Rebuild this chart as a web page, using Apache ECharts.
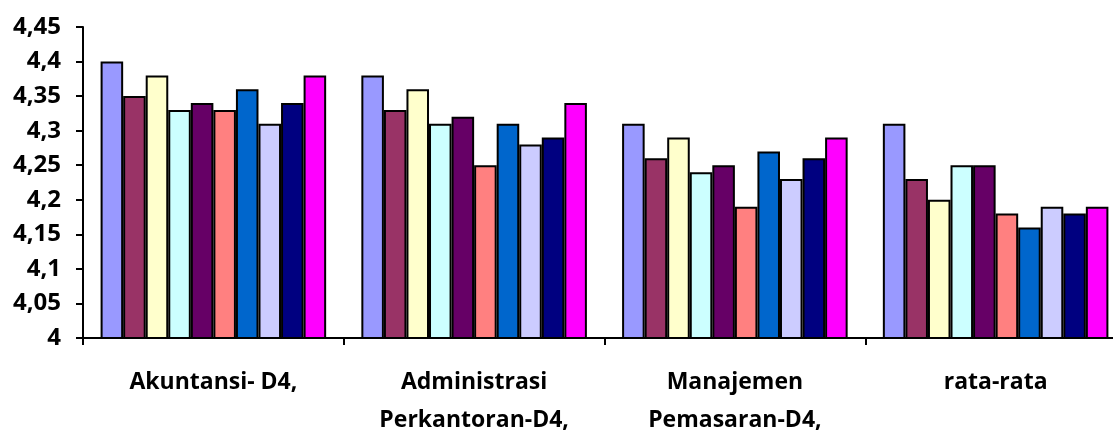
<!DOCTYPE html>
<html>
<head>
<meta charset="utf-8">
<script src="https://cdn.jsdelivr.net/npm/echarts@6/dist/echarts.min.js"></script>
<style>
html,body{margin:0;padding:0;background:#fff;}
#c{width:1113px;height:432px;}
</style>
</head>
<body>
<div id="c"></div>
<script>
const categories = ['Akuntansi- D4,', 'Administrasi\nPerkantoran-D4,', 'Manajemen\nPemasaran-D4,', 'rata-rata'];
const s1  = [4.40, 4.38, 4.31, 4.31];
const s2  = [4.35, 4.33, 4.26, 4.23];
const s3  = [4.38, 4.36, 4.29, 4.20];
const s4  = [4.33, 4.31, 4.24, 4.25];
const s5  = [4.34, 4.32, 4.25, 4.25];
const s6  = [4.33, 4.25, 4.19, 4.18];
const s7  = [4.36, 4.31, 4.27, 4.16];
const s8  = [4.31, 4.28, 4.23, 4.19];
const s9  = [4.34, 4.29, 4.26, 4.18];
const s10 = [4.38, 4.34, 4.29, 4.19];
const seriesList = [s1, s2, s3, s4, s5, s6, s7, s8, s9, s10];
const colors = ['#9999FF', '#993366', '#FFFFCC', '#CCFFFF', '#660066', '#FF8080', '#0066CC', '#CCCCFF', '#000080', '#FF00FF'];

const chart = echarts.init(document.getElementById('c'), null, {renderer: 'canvas'});
chart.setOption({
  animation: false,
  backgroundColor: '#fff',
  grid: {left: 83, top: 27, bottom: 94, right: -13, containLabel: false, outerBoundsMode: 'none'},
  xAxis: {
    type: 'category',
    data: categories,
    boundaryGap: true,
    axisLine: {lineStyle: {color: '#000', width: 2}},
    axisTick: {show: true, length: 7, lineStyle: {color: '#000', width: 2}},
    axisLabel: {
      interval: 0,
      margin: 25,
      verticalAlign: 'top',
      lineHeight: 38,
      fontFamily: 'Open Sans',
      fontWeight: 700,
      fontSize: 23,
      color: '#000'
    }
  },
  yAxis: {
    type: 'value',
    min: 4,
    max: 4.45,
    interval: 0.05,
    splitLine: {show: false},
    axisLine: {show: true, lineStyle: {color: '#000', width: 2}},
    axisTick: {show: true, length: 7, lineStyle: {color: '#000', width: 2}},
    axisLabel: {
      margin: 22,
      fontFamily: 'Open Sans',
      fontWeight: 700,
      fontSize: 24,
      color: '#000',
      formatter: v => String(+v.toFixed(2)).replace('.', ',')
    }
  },
  series: seriesList.map((d, i) => ({
    type: 'bar',
    name: 'Seri ' + (i + 1),
    data: d,
    barGap: '0%',
    barCategoryGap: '13.5%',
    itemStyle: {color: colors[i], borderColor: '#000', borderWidth: 2}
  }))
});
</script>
</body>
</html>
